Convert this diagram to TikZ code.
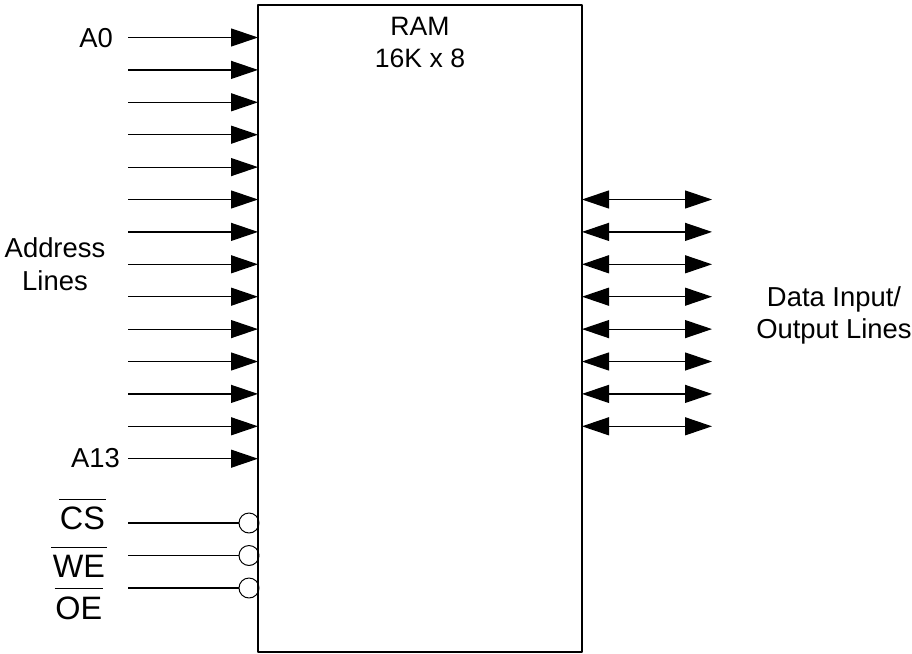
\documentclass[tikz,border=0pt]{standalone}
\usepackage{fontspec}
\setmainfont{Liberation Sans}
\usetikzlibrary{arrows.meta}
\tikzset{
  sig/.style={line width=1.2pt, -{Triangle[length=27pt,width=18pt]}},
  dataline/.style={line width=1.2pt, {Triangle[length=27pt,width=18pt]}-{Triangle[length=27pt,width=18pt]}},
  ctrl/.style={line width=1.2pt},
  bubble/.style={draw, circle, line width=1pt, minimum size=20pt, inner sep=0pt, outer sep=0pt},
  lbl/.style={font=\fontsize{27.4}{32.5}\selectfont, inner sep=0pt, align=center},
  ramlbl/.style={font=\fontsize{26.6}{31}\selectfont, inner sep=0pt},
  barlbl/.style={font=\fontsize{32.4}{36}\selectfont, inner xsep=0.5pt, inner ysep=0pt, text height=23pt, text depth=0pt}
}
\begin{document}
\begin{tikzpicture}[x=1pt, y=-1pt, line join=round]
  \useasboundingbox (0,0) rectangle (912,653);
  \node[draw, line width=1.2pt, minimum width=324pt, minimum height=647pt, inner sep=0pt, outer sep=0pt] (ram) at (420,328.5) {};
  \node[ramlbl] (ramname) at (420,26) {RAM};
  \node[ramlbl] (ramsize) at (420,58) {16K x 8};
  % address lines
  \foreach \i in {0,...,13}{
    \coordinate (addr\i) at (128,{37.5+32.4*\i});
    \draw[sig] (addr\i) -- (addr\i -| ram.west);
  }
  % data lines
  \foreach \i in {5,...,12}{
    \coordinate (data\i) at (712,{37.5+32.4*\i});
    \draw[dataline] (data\i -| ram.east) -- (data\i);
  }
  \node[lbl, anchor=east] (azero) at (113,38) {A0};
  \node[lbl, anchor=east] (athirteen) at (120,458) {A13};
  \node[lbl] (addrlabel) at (55,264) {Address\\Lines};
  \node[lbl] (datalabel) at (834,315.5) {Data Input/\\Output Lines};
  % active low controls
  \foreach \nm/\y in {cs/523, we/555.5, oe/588}{
    \coordinate (\nm start) at (128,\y);
    \node[bubble] (\nm bub) at (249,\y) {};
    \draw[ctrl] (\nm start) -- (\nm bub);
  }
  \node[barlbl] (cs) at (82.5,518) {CS};
  \node[barlbl] (we) at (79,566) {WE};
  \node[barlbl] (oe) at (78.7,608) {OE};
  \foreach \nm/\gap/\ext in {cs/7/0, we/7/1, oe/8/0}{
    \draw[line width=1.2pt] ([xshift=-\ext pt, yshift=\gap pt]\nm.north west) -- ([xshift=\ext pt, yshift=\gap pt]\nm.north east);
  }
\end{tikzpicture}
\end{document}
